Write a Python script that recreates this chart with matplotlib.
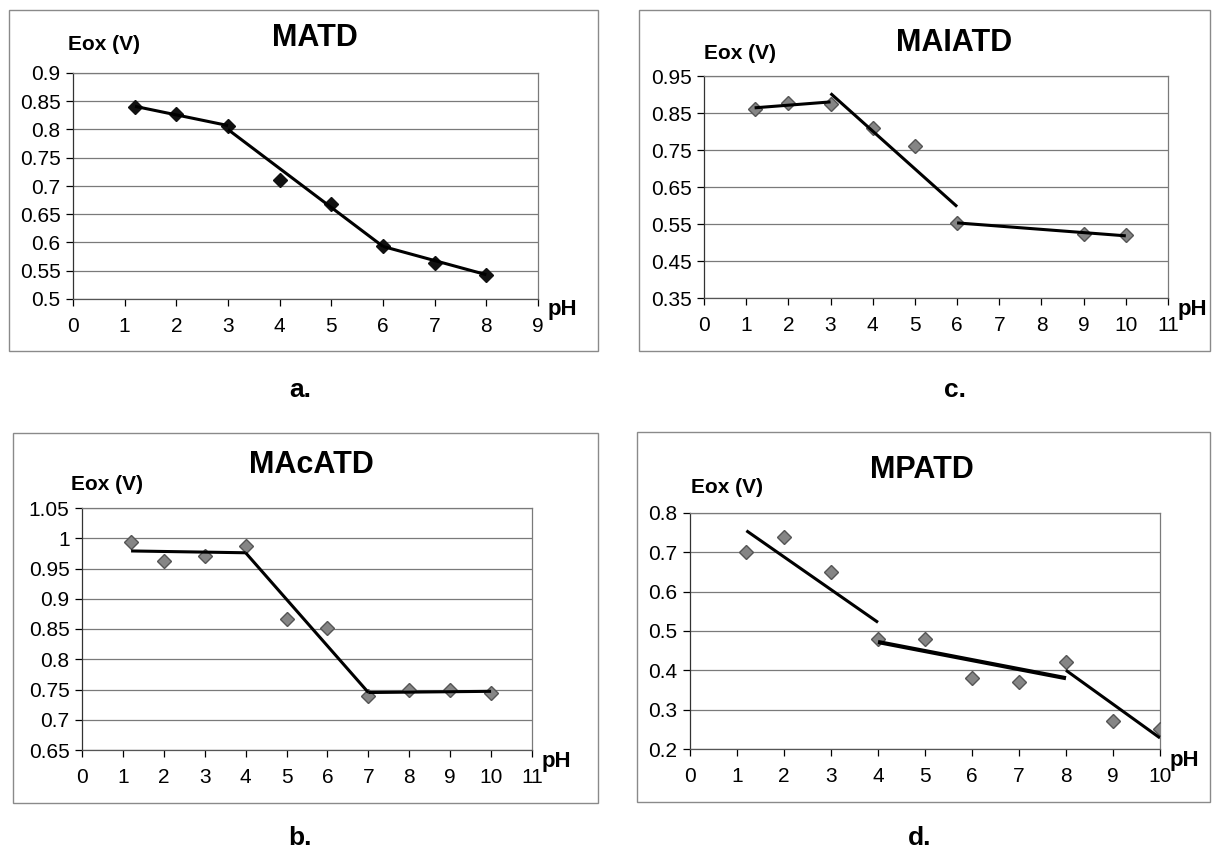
import matplotlib
matplotlib.use("Agg")
import matplotlib.pyplot as plt
import matplotlib.transforms as mtransforms
from matplotlib.patches import Rectangle

plt.rcParams['font.family'] = ['Liberation Sans', 'DejaVu Sans']

W, H = 1212, 855

# ---- data ----
# a. MATD
ph_a = [1.2, 2, 3, 4, 5, 6, 7, 8]
eox_a = [0.840, 0.828, 0.806, 0.710, 0.669, 0.593, 0.564, 0.543]
fit_a = [([1.2, 3], [0.841, 0.807]), ([3, 6], [0.800, 0.593]), ([6, 8], [0.593, 0.543])]

# c. MAIATD
ph_c = [1.2, 2, 3, 4, 5, 6, 9, 10]
eox_c = [0.862, 0.878, 0.875, 0.810, 0.760, 0.553, 0.522, 0.521]
fit_c = [([1.2, 3], [0.864, 0.880]), ([3, 6], [0.903, 0.597]), ([6, 10], [0.553, 0.518])]

# b. MAcATD
ph_b = [1.2, 2, 3, 4, 5, 6, 7, 8, 9, 10]
eox_b = [0.993, 0.963, 0.970, 0.987, 0.866, 0.852, 0.740, 0.750, 0.750, 0.744]
fit_b = [([1.2, 4], [0.979, 0.976]), ([4, 7], [0.976, 0.745]), ([7, 10], [0.745, 0.747])]

# d. MPATD
ph_d = [1.2, 2, 3, 4, 5, 6, 7, 8, 9, 10]
eox_d = [0.70, 0.74, 0.65, 0.48, 0.48, 0.38, 0.37, 0.42, 0.27, 0.25]
fit_d = [([1.2, 4], [0.755, 0.522]), ([4, 8], [0.472, 0.380]), ([8, 10], [0.400, 0.228])]
fit_d_widths = [2.2, 3.0, 2.2]


def fx(x):
    return x / W


def fy(y):
    return 1 - y / H


def make_axes(fig, x0, x1, y0, y1):
    # pixel box of the plot area -> figure fraction
    return fig.add_axes([fx(x0), fy(y1), (x1 - x0) / W, (y1 - y0) / H])


def f2(y):
    return ('%.2f' % y).rstrip('0').rstrip('.')


def panel(ax, ph, eox, fits, title, xmax, ylim, ystep, mcolor, medge,
          title_x, title_dy, eox_dx, eox_dy, widths=None):
    ymin, ymax = ylim
    n = int(round((ymax - ymin) / ystep))
    yticks = [ymin + i * ystep for i in range(n + 1)]
    for y in yticks:
        ax.axhline(y, color='#7a7a7a', lw=0.9, zorder=1)
    ax.set_xlim(0, xmax)
    ax.set_ylim(ymin, ymax)
    ax.set_xticks(range(0, xmax + 1))
    ax.set_yticks(yticks)
    ax.set_yticklabels([f2(y) for y in yticks])
    ax.tick_params(axis='both', direction='out', length=5, width=0.9,
                   labelsize=15, colors='black')
    ax.tick_params(axis='x', pad=8)
    ax.tick_params(axis='y', pad=4)
    for s in ['top', 'right', 'bottom']:
        ax.spines[s].set_color('#7a7a7a')
        ax.spines[s].set_linewidth(0.9)
    ax.spines['left'].set_color('#333333')
    ax.spines['left'].set_linewidth(0.9)
    ax.spines['bottom'].set_color('#555555')

    ax.plot(ph, eox, linestyle='none', marker='D', markersize=7.5,
            markerfacecolor=mcolor, markeredgecolor=medge, markeredgewidth=1.0,
            zorder=3)
    for i, (xs, ys) in enumerate(fits):
        lw = widths[i] if widths else 2.2
        ax.plot(xs, ys, color='black', lw=lw, solid_capstyle='butt', zorder=4)

    # title a fixed number of pixels above the plot area
    shift = mtransforms.ScaledTranslation(0, title_dy / 100, ax.figure.dpi_scale_trans)
    ax.text(title_x, 1, title, transform=ax.transAxes + shift, ha='center',
            va='center', fontsize=22, fontweight='bold')
    ax.annotate('Eox (V)', xy=(0, 1), xycoords='axes fraction',
                xytext=(eox_dx, eox_dy), textcoords='offset pixels',
                ha='left', va='center', fontsize=15, fontweight='bold')
    ax.annotate('pH', xy=(1, 0), xycoords='axes fraction',
                xytext=(10, -11), textcoords='offset pixels',
                ha='left', va='center', fontsize=16, fontweight='bold')


fig = plt.figure(figsize=(W / 100, H / 100), dpi=100)
fig.patch.set_facecolor('white')

# outer frames of the four charts
for (x0, y0, x1, y1) in [(9, 10, 598, 351), (639, 10, 1210, 351),
                         (13, 433, 598, 803), (637, 432, 1210, 802)]:
    fig.add_artist(Rectangle((fx(x0), fy(y1)), (x1 - x0) / W, (y1 - y0) / H,
                             transform=fig.transFigure, fill=False,
                             edgecolor='#8a8a8a', lw=1.0))

ax_a = make_axes(fig, 73, 538, 73, 299)
panel(ax_a, ph_a, eox_a, fit_a, 'MATD', 9, (0.5, 0.9), 0.05,
      '#111111', '#111111', 0.52, 35, -5, 28)

ax_c = make_axes(fig, 704, 1168, 76, 298)
panel(ax_c, ph_c, eox_c, fit_c, 'MAIATD', 11, (0.35, 0.95), 0.1,
      '#858585', '#555555', 0.54, 33, 0, 23)

ax_b = make_axes(fig, 82, 532, 508, 750)
panel(ax_b, ph_b, eox_b, fit_b, 'MAcATD', 11, (0.65, 1.05), 0.05,
      '#858585', '#555555', 0.51, 43, -11, 24)

ax_d = make_axes(fig, 690, 1160, 513, 749)
panel(ax_d, ph_d, eox_d, fit_d, 'MPATD', 10, (0.2, 0.8), 0.1,
      '#858585', '#555555', 0.494, 43, 1, 26, widths=fit_d_widths)

for lab, x, y in [('a.', 300, 390), ('c.', 955, 390), ('b.', 300, 838), ('d.', 920, 838)]:
    fig.text(fx(x), fy(y), lab, ha='center', va='center', fontsize=19,
             fontweight='bold')

fig.savefig('out.png', dpi=100)
